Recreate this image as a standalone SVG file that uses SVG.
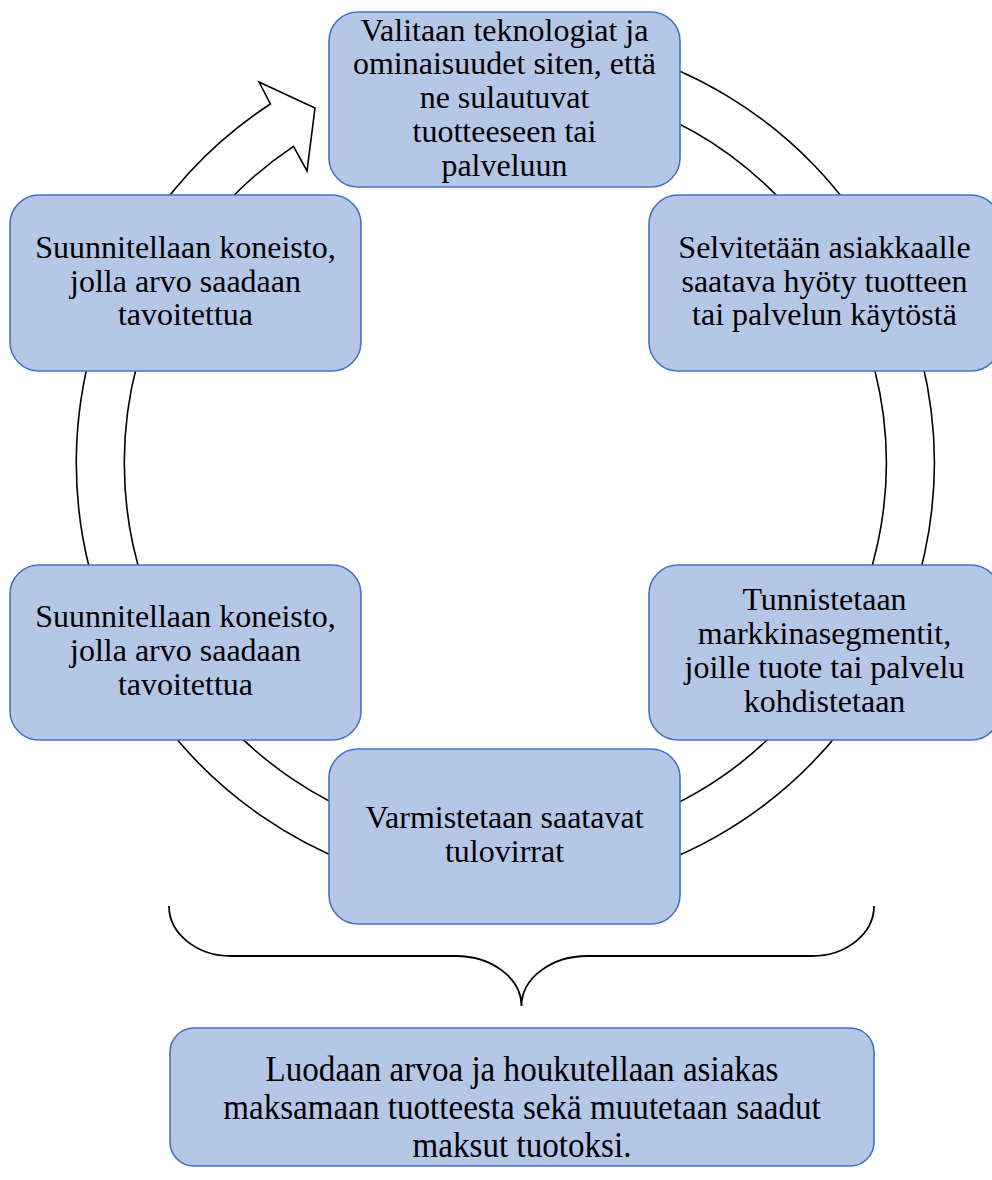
<svg xmlns="http://www.w3.org/2000/svg" width="992" height="1180" viewBox="0 0 992 1180">
  <style>
    .node rect { fill: #B4C7E7; stroke: #4472C4; stroke-width: 1.6; }
    .node text { font-family: "Liberation Serif", "Times New Roman", serif; font-size: 32px; fill: #000; text-anchor: middle; }
    .ring { fill: #fff; stroke: #000; stroke-width: 1.6; stroke-linejoin: miter; }
    .brace { fill: none; stroke: #000; stroke-width: 1.8; }
  </style>
  <rect width="992" height="1180" fill="#fff"/>

  <!-- circular block arrow running clockwise behind the nodes -->
  <g id="connectors">
    <path class="ring" d="M430.8,40.5 A429,429 0 1 1 270.4,104 L259,82 L315,108 L307,171 L293.5,146.3 A381,381 0 1 0 439.1,87.8 Z"/>
    <path class="brace" d="M169,906 A62,50 0 0 0 231,956 L455.5,956 A66,50 0 0 1 521.5,1006 A66,50 0 0 1 587.5,956 L812,956 A62,50 0 0 0 874,906"/>
  </g>

  <g id="node-technologies" class="node">
    <rect x="329" y="12" width="351" height="175" rx="29"/>
    <text x="504.5" y="40.5">Valitaan teknologiat ja</text>
    <text x="504.5" y="74.25">ominaisuudet siten, että</text>
    <text x="504.5" y="108">ne sulautuvat</text>
    <text x="504.5" y="141.75">tuotteeseen tai</text>
    <text x="504.5" y="175.5">palveluun</text>
  </g>

  <g id="node-benefit" class="node">
    <rect x="649" y="195" width="351" height="176" rx="29"/>
    <text x="824.5" y="257.75">Selvitetään asiakkaalle</text>
    <text x="824.5" y="291.5">saatava hyöty tuotteen</text>
    <text x="824.5" y="325.25">tai palvelun käytöstä</text>
  </g>

  <g id="node-segments" class="node">
    <rect x="649" y="565" width="351" height="175" rx="29"/>
    <text x="824.5" y="610.4">Tunnistetaan</text>
    <text x="824.5" y="644.1">markkinasegmentit,</text>
    <text x="824.5" y="677.9">joille tuote tai palvelu</text>
    <text x="824.5" y="711.6">kohdistetaan</text>
  </g>

  <g id="node-revenue" class="node">
    <rect x="329" y="749" width="351" height="175" rx="29"/>
    <text x="504.5" y="828.1">Varmistetaan saatavat</text>
    <text x="504.5" y="861.9">tulovirrat</text>
  </g>

  <g id="node-mechanism-lower" class="node">
    <rect x="10" y="565" width="351" height="175" rx="29"/>
    <text x="185.5" y="627.25">Suunnitellaan koneisto,</text>
    <text x="185.5" y="661">jolla arvo saadaan</text>
    <text x="185.5" y="694.75">tavoitettua</text>
  </g>

  <g id="node-mechanism-upper" class="node">
    <rect x="10" y="195" width="351" height="176" rx="29"/>
    <text x="185.5" y="257.75">Suunnitellaan koneisto,</text>
    <text x="185.5" y="291.5">jolla arvo saadaan</text>
    <text x="185.5" y="325.25">tavoitettua</text>
  </g>

  <g id="node-summary" class="node">
    <rect x="170" y="1028" width="704" height="138" rx="24"/>
    <g transform="translate(522,0) scale(0.92,1)">
      <text x="0" y="1081" style="font-size:36px">Luodaan arvoa ja houkutellaan asiakas</text>
      <text x="0" y="1119" style="font-size:36px">maksamaan tuotteesta sekä muutetaan saadut</text>
      <text x="0" y="1157" style="font-size:36px">maksut tuotoksi.</text>
    </g>
  </g>
</svg>
